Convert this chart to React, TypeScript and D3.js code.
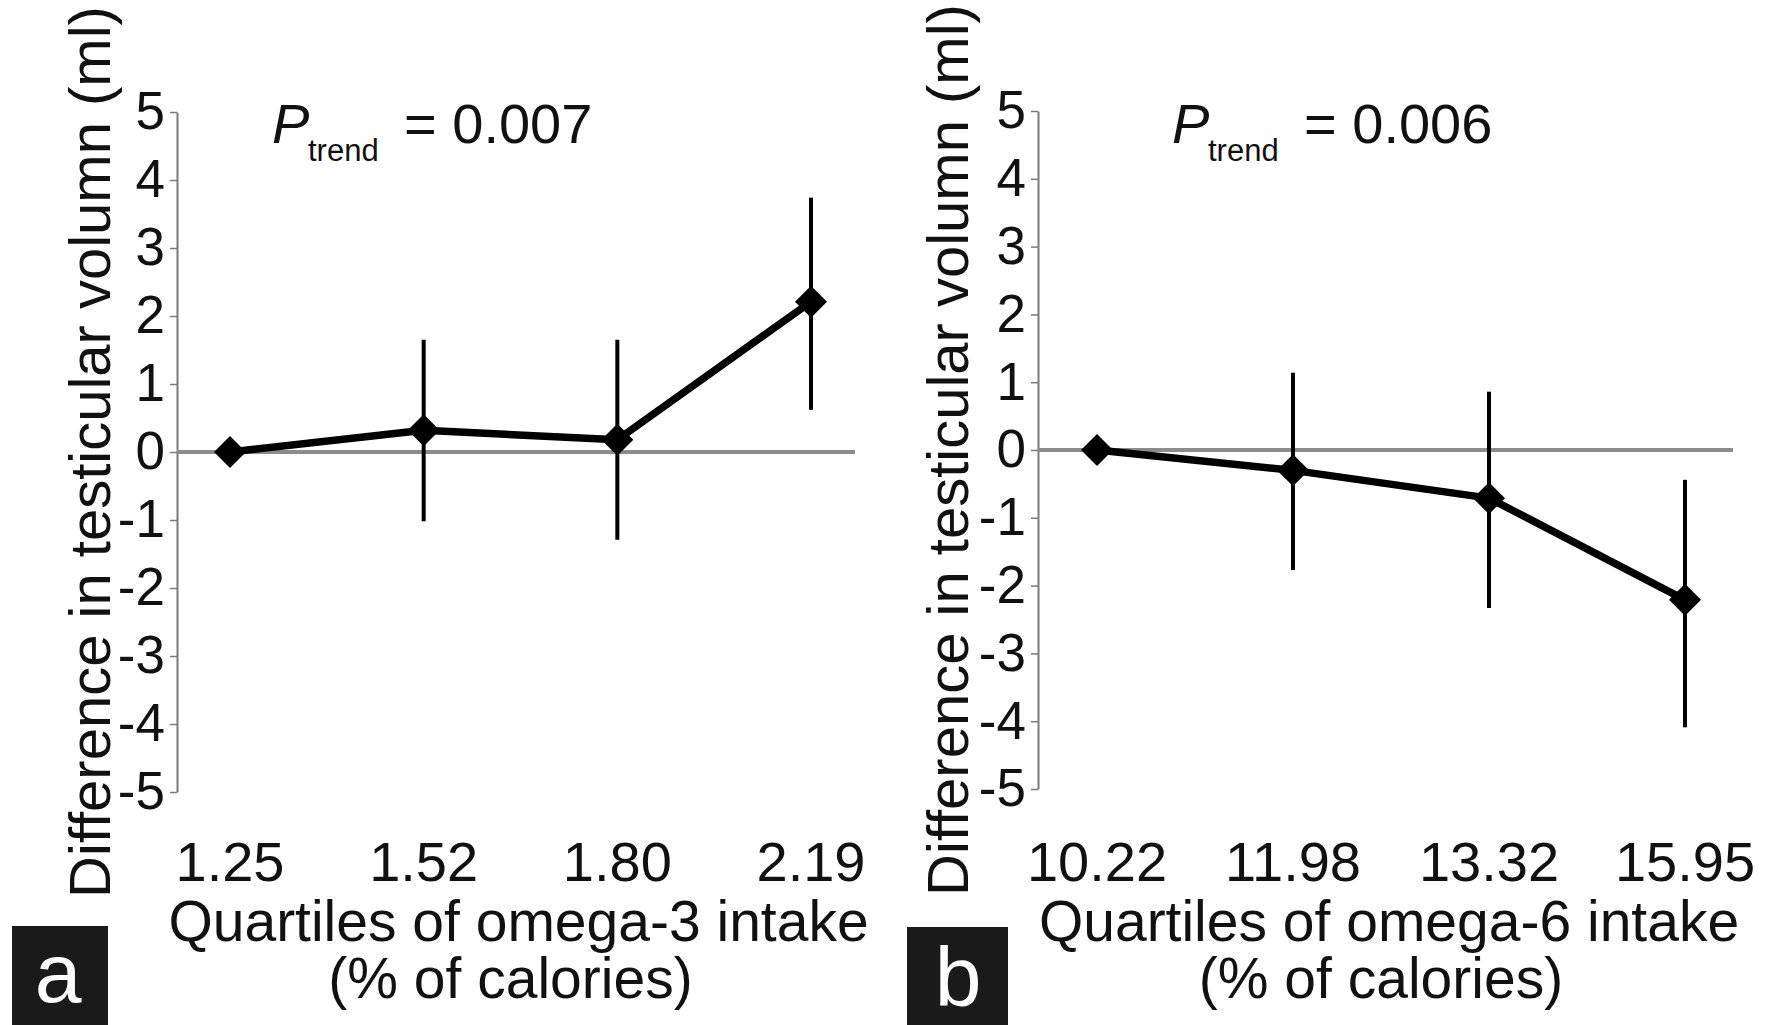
import { useEffect, useRef } from 'react';
import * as d3 from 'd3';

// Panel a: omega-3
const omega3Ticks = ['1.25', '1.52', '1.80', '2.19'];
const omega3Mean = [0, 0.32, 0.18, 2.21];
const omega3Upper: (number | null)[] = [null, 1.65, 1.65, 3.74];
const omega3Lower: (number | null)[] = [null, -1.02, -1.29, 0.62];

// Panel b: omega-6
const omega6Ticks = ['10.22', '11.98', '13.32', '15.95'];
const omega6Mean = [0, -0.3, -0.71, -2.21];
const omega6Upper: (number | null)[] = [null, 1.14, 0.86, -0.44];
const omega6Lower: (number | null)[] = [null, -1.77, -2.33, -4.09];

const yTicks = [5, 4, 3, 2, 1, 0, -1, -2, -3, -4, -5];
const yLabel = 'Difference in testicular volumn (ml)';

const FONT = '"Liberation Sans", Arial, Helvetica, sans-serif';

interface PanelSpec {
	ticks: string[];
	mean: number[];
	upper: (number | null)[];
	lower: (number | null)[];
	xLabel: string;
	pValue: string;
	letter: string;
	// layout
	axisX: number;
	yTop: number;
	yBottom: number;
	xRange: [number, number];
	zeroEnd: number;
	yLabelX: number;
	pX: number;
	box: { x: number; y: number; w: number; h: number; tx: number; ty: number };
}

const panels: PanelSpec[] = [
	{
		ticks: omega3Ticks,
		mean: omega3Mean,
		upper: omega3Upper,
		lower: omega3Lower,
		xLabel: 'Quartiles of omega-3 intake',
		pValue: '= 0.007',
		letter: 'a',
		axisX: 177,
		yTop: 112,
		yBottom: 792,
		xRange: [230, 811],
		zeroEnd: 855,
		yLabelX: 110,
		pX: 272,
		box: { x: 12, y: 926, w: 96, h: 99, tx: 58, ty: 1002 }
	},
	{
		ticks: omega6Ticks,
		mean: omega6Mean,
		upper: omega6Upper,
		lower: omega6Lower,
		xLabel: 'Quartiles of omega-6 intake',
		pValue: '= 0.006',
		letter: 'b',
		axisX: 1038,
		yTop: 111,
		yBottom: 789,
		xRange: [1097, 1685],
		zeroEnd: 1733,
		yLabelX: 968,
		pX: 1172,
		box: { x: 907, y: 927, w: 101, h: 98, tx: 958, ty: 1006 }
	}
];

const drawPanel = (root: d3.Selection<SVGSVGElement, unknown, null, undefined>, p: PanelSpec) => {
	const g = root.append('g');

	const x = d3.scalePoint<string>().domain(p.ticks).range(p.xRange);
	const y = d3.scaleLinear().domain([-5, 5]).range([p.yBottom, p.yTop]);

	// Y axis
	const axis = g
		.append('g')
		.attr('transform', `translate(${p.axisX},0)`)
		.call(
			d3
				.axisLeft(y)
				.tickValues(yTicks)
				.tickSize(7)
				.tickSizeOuter(0)
				.tickPadding(5)
				.tickFormat((d) => String(d))
		);
	axis.select('.domain').attr('stroke', '#7a7a7a').attr('stroke-width', 2);
	axis.selectAll('.tick line').attr('stroke', '#7a7a7a').attr('stroke-width', 1.5);
	axis
		.selectAll('.tick text')
		.style('font-family', FONT)
		.style('font-size', '53px')
		.attr('fill', '#111');

	// Zero reference line
	g.append('line')
		.attr('x1', p.axisX)
		.attr('x2', p.zeroEnd)
		.attr('y1', y(0))
		.attr('y2', y(0))
		.attr('stroke', '#8c8c8c')
		.attr('stroke-width', 4);

	// Error bars
	p.ticks.forEach((t, i) => {
		const hi = p.upper[i];
		const lo = p.lower[i];
		if (hi == null || lo == null) return;
		g.append('line')
			.attr('x1', x(t)!)
			.attr('x2', x(t)!)
			.attr('y1', y(hi))
			.attr('y2', y(lo))
			.attr('stroke', '#000')
			.attr('stroke-width', 4);
	});

	// Connecting line
	const pts = p.ticks.map((t, i) => ({ t, v: p.mean[i] }));
	const line = d3
		.line<{ t: string; v: number }>()
		.x((d) => x(d.t)!)
		.y((d) => y(d.v));
	g.append('path')
		.datum(pts)
		.attr('fill', 'none')
		.attr('stroke', '#000')
		.attr('stroke-width', 7.5)
		.attr('stroke-linejoin', 'round')
		.attr('d', line);

	// Diamond markers
	const diamond = d3.symbol().type(d3.symbolSquare).size(512);
	g.selectAll('.marker')
		.data(pts)
		.enter()
		.append('path')
		.attr('d', diamond)
		.attr('fill', '#000')
		.attr('transform', (d) => `translate(${x(d.t)},${y(d.v)}) rotate(45)`);

	// X tick labels
	g.selectAll('.xtick')
		.data(p.ticks)
		.enter()
		.append('text')
		.attr('x', (d) => x(d)!)
		.attr('y', 881)
		.attr('text-anchor', 'middle')
		.style('font-family', FONT)
		.style('font-size', '56px')
		.attr('fill', '#111')
		.text((d) => d);

	// X axis title
	const mid = (p.xRange[0] + p.xRange[1]) / 2;
	g.append('text')
		.attr('x', mid - 2)
		.attr('y', 941)
		.attr('text-anchor', 'middle')
		.style('font-family', FONT)
		.style('font-size', '57px')
		.attr('fill', '#111')
		.text(p.xLabel);
	g.append('text')
		.attr('x', mid - 10)
		.attr('y', 998)
		.attr('text-anchor', 'middle')
		.style('font-family', FONT)
		.style('font-size', '57px')
		.attr('fill', '#111')
		.text('(% of calories)');

	// Y axis title
	g.append('text')
		.attr('transform', `translate(${p.yLabelX},${y(0)}) rotate(-90)`)
		.attr('text-anchor', 'middle')
		.style('font-family', FONT)
		.style('font-size', '58px')
		.attr('fill', '#111')
		.text(yLabel);

	// P trend annotation
	const pt = g.append('g').style('font-family', FONT).attr('fill', '#111');
	pt.append('text')
		.attr('x', p.pX)
		.attr('y', 143)
		.style('font-size', '56px')
		.style('font-style', 'italic')
		.text('P');
	pt.append('text')
		.attr('x', p.pX + 36)
		.attr('y', 161)
		.style('font-size', '31px')
		.text('trend');
	pt.append('text')
		.attr('x', p.pX + 132)
		.attr('y', 143)
		.style('font-size', '56px')
		.text(p.pValue);

	// Panel letter
	g.append('rect')
		.attr('x', p.box.x)
		.attr('y', p.box.y)
		.attr('width', p.box.w)
		.attr('height', p.box.h)
		.attr('fill', '#1a1a1a');
	g.append('text')
		.attr('x', p.box.tx)
		.attr('y', p.box.ty)
		.attr('text-anchor', 'middle')
		.style('font-family', FONT)
		.style('font-size', '84px')
		.attr('fill', '#fff')
		.text(p.letter);
};

export default function App() {
	const svgRef = useRef<SVGSVGElement>(null);

	useEffect(() => {
		if (!svgRef.current) return;
		const svg = d3.select(svgRef.current);
		svg.selectAll('*').remove();
		panels.forEach((p) => drawPanel(svg, p));
	}, []);

	return (
		<svg
			ref={svgRef}
			width={1765}
			height={1025}
			style={{ position: 'absolute', left: 0, top: 0, display: 'block', background: '#fff' }}
		></svg>
	);
}
